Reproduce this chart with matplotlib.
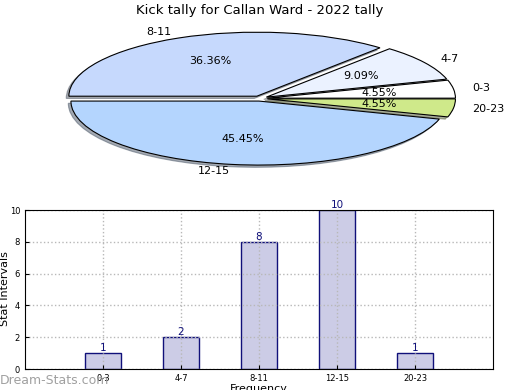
import matplotlib
matplotlib.use("Agg")
import matplotlib.pyplot as plt
import numpy as np

title = "Kick tally for Callan Ward - 2022 tally"
categories = ["0-3", "4-7", "8-11", "12-15", "20-23"]
counts = [1, 2, 8, 10, 1]
pie_colors = ["#ffffff", "#ebf2ff", "#c6d9fd", "#b4d5fe", "#cfe98a"]

fig = plt.figure(figsize=(5.2, 3.9), dpi=100)

# Pie (stretched ellipse)
axp = fig.add_axes([0.03, 0.534, 0.94, 0.4267])
wedges, texts, autotexts = axp.pie(
    counts, labels=categories, colors=pie_colors, explode=[0.04] * len(counts),
    autopct="%.2f%%", shadow={"ox": -0.01, "oy": -0.025, "shade": 0.6},
    startangle=0, counterclock=True,
    wedgeprops=dict(edgecolor="black", linewidth=0.8),
    textprops=dict(fontsize=8), labeldistance=1.1, pctdistance=0.6)
axp.set_aspect("auto")
axp.set_xlim(-1.3, 1.3)
axp.set_ylim(-1.3, 1.3)
axp.axis("off")
fig.text(0.5, 0.973, title, ha="center", va="center", fontsize=9.5)

# Bar chart
axb = fig.add_axes([0.048, 0.0538, 0.9, 0.4077])
x = np.arange(1, len(categories) + 1)
bars = axb.bar(x, counts, width=0.47, color="#ccccE6", edgecolor="#10107a", linewidth=1)
for xi, v in zip(x, counts):
    axb.text(xi, v, str(v), ha="center", va="bottom", color="#10107a", fontsize=7.5)
axb.set_xlim(0, 6)
axb.set_ylim(0, 10)
axb.set_xticks(x)
axb.set_xticklabels(categories)
axb.set_yticks([0, 2, 4, 6, 8, 10])
axb.tick_params(labelsize=6, direction="in", length=3)
axb.grid(True, linestyle=":", color="#b8b8b8", linewidth=1)
axb.set_axisbelow(False)
for s in axb.spines.values():
    s.set_zorder(4)
axb.set_xlabel("Frequency", fontsize=8, labelpad=1)
fig.text(5 / 520, 1 - 289 / 390, "Stat Intervals", rotation=90, ha="center",
         va="center", fontsize=8)

fig.text(0.0, 0.025, "Dream-Stats.com", color="#a0a0a0", fontsize=9,
         ha="left", va="center")

fig.savefig("out.png", dpi=100)
